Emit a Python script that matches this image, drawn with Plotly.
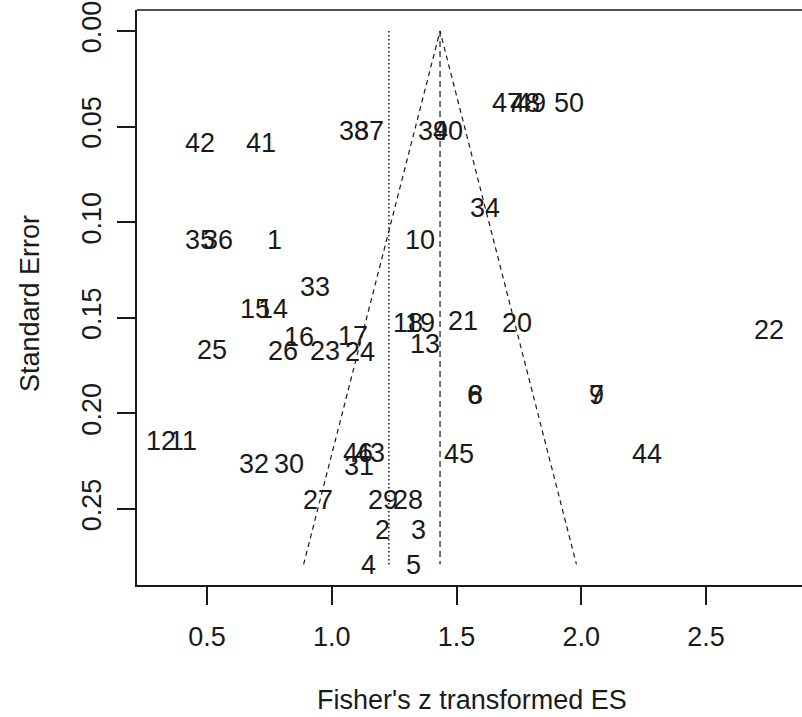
import plotly.graph_objects as go

# Study identifiers and their effect sizes / standard errors
study_ids = [str(i) for i in range(1, 51)]
fisher_z = [
    0.769, 1.205, 1.346, 1.149, 1.326, 1.574, 2.063, 1.576, 2.061, 1.354,
    0.404, 0.316, 1.374, 0.765, 0.692, 0.869, 1.085, 1.306, 1.354, 1.743,
    1.526, 2.753, 0.973, 1.113, 0.520, 0.805, 0.945, 1.306, 1.205, 0.829,
    1.109, 0.688, 0.933, 1.614, 0.472, 0.544, 1.149, 1.089, 1.406, 1.466,
    0.716, 0.472, 1.153, 2.264, 1.510, 1.105, 1.702, 1.774, 1.798, 1.951,
]
std_error = [
    0.109, 0.2605, 0.2605, 0.279, 0.279, 0.190, 0.190, 0.190, 0.190, 0.109,
    0.214, 0.214, 0.163, 0.145, 0.145, 0.1595, 0.159, 0.152, 0.152, 0.152,
    0.151, 0.156, 0.167, 0.1675, 0.1665, 0.167, 0.245, 0.245, 0.245, 0.226,
    0.227, 0.226, 0.1335, 0.092, 0.109, 0.109, 0.052, 0.052, 0.052, 0.052,
    0.058, 0.058, 0.220, 0.2205, 0.2205, 0.220, 0.037, 0.037, 0.037, 0.037,
]

# Pooled estimate (funnel centre), secondary reference line, funnel depth
pooled_z = 1.434
reference_z = 1.229
max_se = 0.279
crit = 1.96

x_ticks = [0.5, 1.0, 1.5, 2.0, 2.5]
x_tick_text = ["0.5", "1.0", "1.5", "2.0", "2.5"]
y_ticks = [0.00, 0.05, 0.10, 0.15, 0.20, 0.25]
y_tick_text = ["0.00", "0.05", "0.10", "0.15", "0.20", "0.25"]

FONT = "Liberation Sans, Arial, sans-serif"
INK = "#1a1a1a"
SIZE = 27

fig = go.Figure()

# Funnel sides (pseudo 95% confidence region)
fig.add_trace(go.Scatter(
    x=[pooled_z - crit * max_se, pooled_z, pooled_z + crit * max_se],
    y=[max_se, 0.0, max_se],
    mode="lines",
    line=dict(color=INK, width=1.2, dash="5px,4px"),
    hoverinfo="skip",
))
# Vertical line at the pooled estimate
fig.add_trace(go.Scatter(
    x=[pooled_z, pooled_z], y=[0.0, max_se],
    mode="lines",
    line=dict(color=INK, width=1.2, dash="6px,4px"),
    hoverinfo="skip",
))
# Dotted reference line
fig.add_trace(go.Scatter(
    x=[reference_z, reference_z], y=[0.0, max_se],
    mode="lines",
    line=dict(color=INK, width=1.5, dash="1.5px,2.5px"),
    hoverinfo="skip",
))

# Studies drawn as their numeric labels, glyphs centred on each point
study_labels = [
    dict(
        x=z, y=se, xref="x", yref="y", text=sid,
        showarrow=False, xanchor="center", yanchor="middle", yshift=-1,
        font=dict(family=FONT, size=SIZE, color=INK),
    )
    for sid, z, se in zip(study_ids, fisher_z, std_error)
]

fig.update_layout(
    width=802, height=717,
    margin=dict(l=137, r=0, t=10, b=132),
    paper_bgcolor="white", plot_bgcolor="white",
    showlegend=False,
    font=dict(family=FONT, color=INK),
    xaxis=dict(
        range=[0.2194, 2.8848],
        tickmode="array", tickvals=x_ticks, ticktext=x_tick_text,
        ticks="outside", ticklen=18, tickwidth=1.5, tickcolor=INK,
        tickfont=dict(family=FONT, size=SIZE, color=INK),
        ticklabelstandoff=9,
        showline=True, linecolor=INK, linewidth=1.6, mirror=False,
        showgrid=False, zeroline=False,
    ),
    yaxis=dict(
        range=[0.28975, -0.01098],
        tickmode="array", tickvals=y_ticks, ticktext=y_tick_text,
        tickangle=-90,
        ticks="outside", ticklen=18, tickwidth=1.5, tickcolor=INK,
        tickfont=dict(family=FONT, size=SIZE, color=INK),
        ticklabelstandoff=5,
        showline=True, linecolor=INK, linewidth=1.6, mirror=False,
        showgrid=False, zeroline=False,
    ),
    shapes=[dict(
        type="line", xref="paper", yref="paper",
        x0=0, x1=1, y0=1, y1=1,
        line=dict(color=INK, width=1.6),
    )],
    annotations=study_labels + [
        dict(
            text="Fisher's z transformed ES",
            xref="paper", yref="paper",
            x=(472 - 137) / 665, y=-(700 - 585) / 575,
            xanchor="center", yanchor="middle", showarrow=False,
            font=dict(family=FONT, size=SIZE, color=INK),
        ),
        dict(
            text="Standard Error",
            xref="paper", yref="paper",
            x=-(137 - 30) / 665, y=1 - (304 - 10) / 575,
            xanchor="center", yanchor="middle", showarrow=False,
            textangle=-90,
            font=dict(family=FONT, size=SIZE, color=INK),
        ),
    ],
)

fig.write_html("out.html")
